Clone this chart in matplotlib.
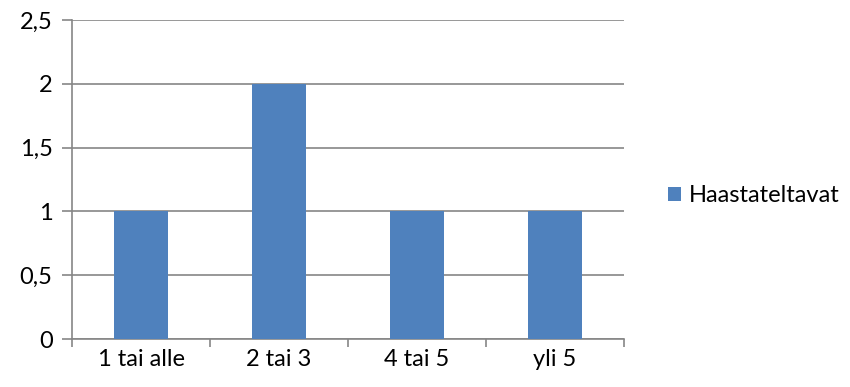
import matplotlib.pyplot as plt
import numpy as np

# Haastateltavien määrä luokittain
categories = ['1 tai alle', '2 tai 3', '4 tai 5', 'yli 5']
counts = [1, 2, 1, 1]
series_name = 'Haastateltavat'

plt.rcParams['font.family'] = ['Lato', 'DejaVu Sans']
fs = 17

fig = plt.figure(figsize=(8.5, 3.87), dpi=100)
ax = fig.add_axes([72 / 850, 48 / 387, 552 / 850, 319 / 387])

x = np.arange(len(categories))
bars = ax.bar(x, counts, width=0.39, color='#4F81BD', zorder=3, label=series_name)

grid_col = '#868686'
ax.set_xlim(-0.5, len(categories) - 0.5)
ax.set_ylim(0, 2.5)
ax.set_yticks(np.arange(0, 2.51, 0.5))
ax.set_yticklabels(['0', '0,5', '1', '1,5', '2', '2,5'])
ax.yaxis.grid(True, color=grid_col, linewidth=1.2, zorder=0)

# kategoriarajojen jakoviivat x-akselilla
ax.set_xticks(np.arange(-0.5, len(categories) + 0.5, 1))
ax.set_xticklabels([])
ax.set_xticks(x, minor=True)
ax.set_xticklabels(categories, minor=True)
ax.tick_params(axis='x', which='major', direction='out', length=6, width=1.2, color=grid_col)
ax.tick_params(axis='x', which='minor', length=0, pad=7, labelsize=fs)
ax.tick_params(axis='y', direction='out', length=7, width=1.2, color=grid_col, pad=7, labelsize=fs)

for side in ['top', 'right']:
    ax.spines[side].set_visible(False)
for side in ['left', 'bottom']:
    ax.spines[side].set_color(grid_col)
    ax.spines[side].set_linewidth(1.2)

fig.legend(handles=[bars], loc='center left', bbox_to_anchor=(656 / 850, 1 - 196 / 387),
           frameon=False, fontsize=fs, handlelength=0.55, handleheight=0.55,
           handletextpad=0.35, borderpad=0)

fig.savefig('out.png', dpi=100)
